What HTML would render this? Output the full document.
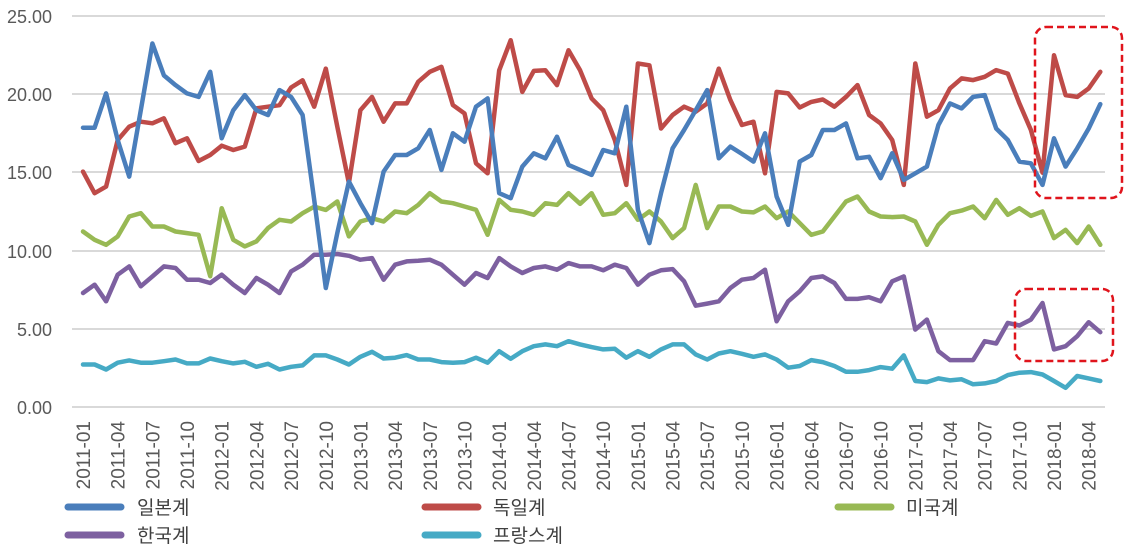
<!DOCTYPE html>
<html><head><meta charset="utf-8">
<style>
html,body{margin:0;padding:0;background:#fff;}
svg{display:block;font-family:"Liberation Sans","Noto Sans CJK KR",sans-serif;}
</style></head>
<body>
<svg id="c" width="1129" height="552" viewBox="0 0 1129 552" xmlns="http://www.w3.org/2000/svg">
<g stroke="#d9d9d9" stroke-width="2">
<line x1="72" y1="16" x2="1105" y2="16"/><line x1="72" y1="94" x2="1105" y2="94"/><line x1="72" y1="172" x2="1105" y2="172"/><line x1="72" y1="251" x2="1105" y2="251"/><line x1="72" y1="329" x2="1105" y2="329"/><line x1="72" y1="407" x2="1105" y2="407"/>
</g>
<g fill="#595959" font-size="18" text-anchor="end">
<text x="52" y="23">25.00</text><text x="52" y="101">20.00</text><text x="52" y="179">15.00</text><text x="52" y="258">10.00</text><text x="52" y="336">5.00</text><text x="52" y="414">0.00</text>
</g>
<g id="xl" fill="#595959" font-size="19" text-anchor="end"></g>
<g id="ser" fill="none" stroke-width="4.5" stroke-linejoin="round" stroke-linecap="round"></g>
<g fill="none" stroke="#e0141c" stroke-width="2.5" stroke-dasharray="7,4">
<rect x="1035" y="27" width="87" height="171" rx="11"/>
<rect x="1015" y="289" width="98" height="72" rx="11"/>
</g>
<g stroke-width="7" stroke-linecap="round">
<line x1="68" y1="507" x2="121" y2="507" stroke="#4a7ebb"/>
<line x1="68" y1="535" x2="121" y2="535" stroke="#7d60a0"/>
<line x1="425" y1="507" x2="478" y2="507" stroke="#be4b48"/>
<line x1="425" y1="535" x2="478" y2="535" stroke="#46aac5"/>
<line x1="838" y1="507" x2="891" y2="507" stroke="#98b954"/>
</g>
<g fill="#404040" font-size="19">
<text x="137" y="514">일본계</text>
<text x="137" y="542">한국계</text>
<text x="493" y="514">독일계</text>
<text x="493" y="542">프랑스계</text>
<text x="906" y="514">미국계</text>
</g>
</svg>
<script>
var x0=83,st=11.56;
function Y(v){return 407-v*15.64;}
var S=[
["#46aac5",[2.72,2.72,2.4,2.83,2.98,2.83,2.83,2.93,3.04,2.79,2.79,3.1,2.93,2.79,2.89,2.57,2.76,2.4,2.57,2.66,3.3,3.3,3.04,2.72,3.21,3.53,3.1,3.15,3.32,3.04,
3.04,2.87,2.83,2.87,3.15,2.83,3.57,3.08,3.57,3.89,4.0,3.89,4.21,4.0,3.83,3.68,3.72,3.15,3.57,3.21,3.68,4.0,4.0,3.36,3.04,3.42,3.57,3.4,3.21,
3.36,3.04,2.51,2.62,3.0,2.87,2.62,2.25,2.25,2.36,2.55,2.45,3.3,1.66,1.59,1.83,1.7,1.77,1.45,1.51,1.66,2.04,2.19,2.23,2.08,1.66,1.23,1.98,1.83,1.66]],
["#7d60a0",[7.29,7.82,6.76,8.46,8.99,7.72,8.35,8.99,8.89,8.14,8.14,7.93,8.46,7.82,7.29,8.25,7.82,7.29,8.67,9.1,9.74,9.74,9.78,9.67,9.42,9.52,8.14,9.1,9.31,9.35,
9.42,9.1,8.46,7.82,8.57,8.25,9.52,8.99,8.57,8.89,8.99,8.78,9.2,8.99,8.99,8.74,9.1,8.89,7.82,8.46,8.74,8.82,8.04,6.48,6.61,6.76,7.61,8.14,8.25,
8.78,5.48,6.76,7.4,8.25,8.35,7.93,6.91,6.91,7.02,6.76,8.04,8.35,4.95,5.59,3.57,3.0,3.0,3.0,4.21,4.06,5.38,5.21,5.59,6.65,3.68,3.89,4.53,5.42,4.78]],
["#98b954",[11.22,10.69,10.37,10.91,12.18,12.39,11.54,11.54,11.22,11.12,11.01,8.36,12.71,10.69,10.27,10.59,11.44,11.97,11.86,12.39,12.81,12.6,13.14,10.91,11.86,12.07,11.86,12.5,12.39,12.92,
13.67,13.14,13.03,12.82,12.61,11.01,13.24,12.61,12.5,12.29,13.03,12.92,13.67,12.99,13.67,12.29,12.39,13.03,11.97,12.5,11.86,10.8,11.44,14.2,11.44,12.82,12.82,12.5,12.44,
12.82,12.07,12.5,11.76,11.01,11.22,12.18,13.14,13.46,12.5,12.18,12.14,12.18,11.86,10.37,11.65,12.39,12.56,12.82,12.07,13.24,12.29,12.71,12.22,12.5,10.8,11.33,10.48,11.54,10.37]],
["#be4b48",[15.05,13.67,14.09,17.07,17.92,18.24,18.14,18.46,16.87,17.18,15.73,16.11,16.71,16.43,16.65,19.09,19.2,19.3,20.43,20.89,19.2,21.64,17.92,14.31,18.98,19.83,18.24,19.41,19.41,20.79,
21.43,21.75,19.3,18.77,15.58,14.94,21.53,23.45,20.15,21.49,21.53,20.58,22.81,21.53,19.73,18.98,17.07,14.2,21.96,21.85,17.81,18.67,19.2,18.88,19.41,21.64,19.62,18.03,18.24,
14.94,20.15,20.05,19.15,19.51,19.66,19.2,19.83,20.58,18.67,18.13,17.07,14.2,21.96,18.56,18.98,20.37,21.01,20.9,21.11,21.54,21.32,19.41,17.71,14.98,22.49,19.94,19.83,20.37,21.43]],
["#4a7ebb",[17.86,17.86,20.05,17.07,14.73,18.98,23.24,21.2,20.58,20.05,19.83,21.43,17.18,18.98,19.94,18.98,18.67,20.26,19.83,18.67,13.25,7.61,11.12,14.41,13.03,11.76,15.05,16.11,16.11,16.54,
17.71,15.16,17.5,16.96,19.2,19.73,13.67,13.35,15.37,16.22,15.9,17.28,15.48,15.16,14.84,16.43,16.22,19.2,12.61,10.48,13.67,16.54,17.71,18.98,20.26,15.9,16.65,16.18,15.69,
17.5,13.46,11.65,15.69,16.11,17.71,17.71,18.13,15.9,16.0,14.63,16.22,14.52,14.94,15.37,18.03,19.41,19.09,19.83,19.94,17.81,17.07,15.69,15.58,14.2,17.18,15.37,16.54,17.81,19.37]]
];
var ns="http://www.w3.org/2000/svg",g=document.getElementById("ser");
S.forEach(function(s){var p=document.createElementNS(ns,"polyline");
p.setAttribute("points",s[1].map(function(v,i){return (x0+i*st).toFixed(1)+","+Y(v).toFixed(1)}).join(" "));
p.setAttribute("stroke",s[0]);g.appendChild(p);});
var xl=document.getElementById("xl");
for(var i=0;i<89;i+=3){var yr=2011+Math.floor(i/12),m=i%12+1;var x=x0+i*st+7;
var t=document.createElementNS(ns,"text");t.setAttribute("transform","translate("+x.toFixed(1)+",421) rotate(-90)");
t.textContent=yr+"-"+(m<10?"0":"")+m;xl.appendChild(t);}
</script>
</body></html>
